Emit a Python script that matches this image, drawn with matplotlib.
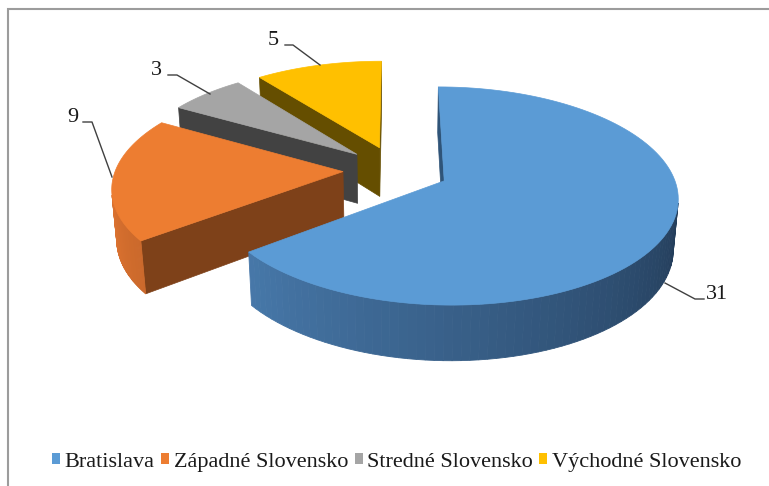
import numpy as np
import matplotlib
matplotlib.use('Agg')
import matplotlib.pyplot as plt
from matplotlib.patches import Polygon, Rectangle, Patch
from matplotlib.colors import to_rgb
from matplotlib.font_manager import FontProperties

# ---- data ----
categories = ['Bratislava', 'Západné Slovensko', 'Stredné Slovensko', 'Východné Slovensko']
values = [31, 9, 3, 5]
labels = ['31', '9', '3', '5']

# ---- styles ----
colors_top = ['#5B9BD5', '#ED7D31', '#A5A5A5', '#FFC000']
side_light = ['#5189C0', '#E37632', '#8a8a8a', '#d9a300']
side_dark = ['#203752', '#6e3712', '#3a3a3a', '#5a4500']
radial_col = ['#2F5478', '#7E4119', '#424242', '#654E00']
FONT = 'Liberation Serif'
plt.rcParams['font.family'] = [FONT, 'DejaVu Serif']

W, H = 769, 486
fig = plt.figure(figsize=(W / 100, H / 100), dpi=100)
ax = fig.add_axes([0, 0, 1, 1])
ax.set_xlim(0, W)
ax.set_ylim(H, 0)
ax.axis('off')

# outer chart border
fig.add_artist(Rectangle((7.5 / W, -0.1), 1.2, (1 - 9 / H) + 0.1,
                         transform=fig.transFigure, fill=False,
                         ec='#9c9c9c', lw=1.5))

# ---- 3D projection ----
D = 6.5
phi = np.radians(27.2)
cp, sp = np.cos(phi), np.sin(phi)
h = 0.25
explode = 0.233
S = 227.5
cx, cy = 396.0, 170.0
cam = np.array([0.0, D * cp, D * sp])


def proj(X, Y, Z):
    w = D - (Y * cp + Z * sp)
    v = -Y * sp + Z * cp
    return cx + S * D * X / w, cy - S * D * v / w


def rim(ox, oy, th, Z):
    t = np.radians(th)
    return ox + np.sin(t), oy - np.cos(t), Z


def visible(nx, ny, p):
    return nx * (cam[0] - p[0]) + ny * (cam[1] - p[1]) > 0


def mix(c1, c2, f):
    a, b = np.array(to_rgb(c1)), np.array(to_rgb(c2))
    return tuple(a + (b - a) * f)


total = sum(values)
cum = np.concatenate([[0], np.cumsum(values)]) / total * 360.0

slices = []
for i, v in enumerate(values):
    t0, t1 = cum[i], cum[i + 1]
    mid = np.radians((t0 + t1) / 2)
    ox, oy = explode * np.sin(mid), -explode * np.cos(mid)
    slices.append((i, t0, t1, ox, oy))

for i, t0, t1, ox, oy in sorted(slices, key=lambda s: s[4]):
    # radial faces
    for th, off in ((t0, -90), (t1, 90)):
        n = np.radians(th + off)
        if visible(np.sin(n), -np.cos(n), (ox, oy)):
            pts = [proj(ox, oy, 0), proj(*rim(ox, oy, th, 0)),
                   proj(*rim(ox, oy, th, -h)), proj(ox, oy, -h)]
            ax.add_patch(Polygon(pts, closed=True, fc=radial_col[i],
                                 ec=radial_col[i], lw=0.5))
    # curved side
    ths = np.linspace(t0, t1, 120)
    for a, b in zip(ths[:-1], ths[1:]):
        m = (a + b) / 2
        mr = np.radians(m)
        p = rim(ox, oy, m, 0)
        if visible(np.sin(mr), -np.cos(mr), p):
            f = np.clip((270 - (m % 360)) / 180.0, 0, 1)
            c = mix(side_light[i], side_dark[i], f)
            pts = [proj(*rim(ox, oy, a, 0)), proj(*rim(ox, oy, b, 0)),
                   proj(*rim(ox, oy, b, -h)), proj(*rim(ox, oy, a, -h))]
            ax.add_patch(Polygon(pts, closed=True, fc=c, ec=c, lw=0.6))
    # top face
    pts = [proj(ox, oy, 0)] + [proj(*rim(ox, oy, t, 0)) for t in ths]
    ax.add_patch(Polygon(pts, closed=True, fc=colors_top[i],
                         ec=colors_top[i], lw=0.5))

# ---- data labels with leader lines ----
label_pos = [(706, 299), (67, 122), (151, 75), (268, 45)]
leaders = [
    [(665, 283), (695, 299), (704, 299)],
    [(83, 122), (92, 122), (112, 177)],
    [(168, 75), (177, 75), (210, 94)],
    [(285, 45), (293, 45), (320, 65)],
]
for lab, (tx, ty), ln in zip(labels, label_pos, leaders):
    xs, ys = zip(*ln)
    ax.plot(xs, ys, color='#404040', lw=1.0)
    ax.text(tx, ty, lab, fontsize=16, family=[FONT, 'DejaVu Serif'],
            color='#1a1a1a', ha='left', va='baseline')

# ---- legend ----
handles = [Patch(fc=c, ec='none') for c in colors_top]
fig.legend(handles, categories, loc='center', bbox_to_anchor=(0.516, 0.049),
           ncol=4, frameon=False,
           prop=FontProperties(family=[FONT, 'DejaVu Serif'], size=16),
           handlelength=0.36, handleheight=0.36, handletextpad=0.22,
           columnspacing=0.28, labelcolor='#1a1a1a')

fig.savefig('out.png', dpi=100, facecolor='white')
